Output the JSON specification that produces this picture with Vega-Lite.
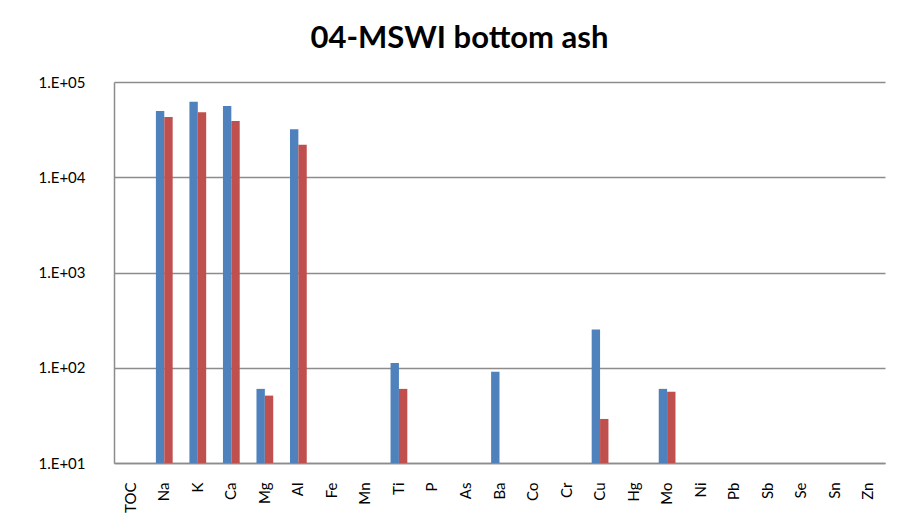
{
  "$schema": "https://vega.github.io/schema/vega-lite/v6.json",
  "width": 771,
  "height": 381,
  "autosize": {"type": "none"},
  "padding": {"left": 114, "top": 82, "right": 19, "bottom": 65},
  "background": "white",
  "title": {
    "text": "04-MSWI bottom ash",
    "font": "Lato",
    "fontSize": 31,
    "fontWeight": "bold",
    "color": "black",
    "anchor": "middle",
    "dx": -40,
    "offset": 20
  },
  "data": {
    "values": [
      {"element": "Na", "series": "A", "value": 49500},
      {"element": "Na", "series": "B", "value": 43000},
      {"element": "K", "series": "A", "value": 62000},
      {"element": "K", "series": "B", "value": 48000},
      {"element": "Ca", "series": "A", "value": 56000},
      {"element": "Ca", "series": "B", "value": 39000},
      {"element": "Mg", "series": "A", "value": 60},
      {"element": "Mg", "series": "B", "value": 51},
      {"element": "Al", "series": "A", "value": 32000},
      {"element": "Al", "series": "B", "value": 22000},
      {"element": "Ti", "series": "A", "value": 112},
      {"element": "Ti", "series": "B", "value": 60},
      {"element": "Ba", "series": "A", "value": 91},
      {"element": "Cu", "series": "A", "value": 252},
      {"element": "Cu", "series": "B", "value": 29},
      {"element": "Mo", "series": "A", "value": 60},
      {"element": "Mo", "series": "B", "value": 56}
    ]
  },
  "mark": {"type": "bar"},
  "encoding": {
    "x": {
      "field": "element",
      "type": "nominal",
      "sort": ["TOC","Na","K","Ca","Mg","Al","Fe","Mn","Ti","P","As","Ba","Co","Cr","Cu","Hg","Mo","Ni","Pb","Sb","Se","Sn","Zn"],
      "scale": {
        "domain": ["TOC","Na","K","Ca","Mg","Al","Fe","Mn","Ti","P","As","Ba","Co","Cr","Cu","Hg","Mo","Ni","Pb","Sb","Se","Sn","Zn"],
        "paddingInner": 0.5,
        "paddingOuter": 0.25
      },
      "axis": {
        "title": null,
        "labelAngle": -90,
        "labelFont": "Lato",
        "labelFontSize": 15,
        "labelColor": "black",
        "labelPadding": 19,
        "ticks": false,
        "domainColor": "#8c8c8c",
        "domainWidth": 1.5
      }
    },
    "xOffset": {"field": "series", "type": "nominal", "scale": {"paddingInner": 0}},
    "y": {
      "field": "value",
      "type": "quantitative",
      "scale": {"type": "log", "domain": [10, 100000], "nice": false},
      "axis": {
        "title": null,
        "values": [10, 100, 1000, 10000, 100000],
        "labelExpr": "'1.E+0' + round(log(datum.value)/LN10)",
        "labelFont": "Lato",
        "labelFontSize": 15,
        "labelColor": "black",
        "labelAlign": "left",
        "labelPadding": 76,
        "ticks": false,
        "grid": true,
        "gridColor": "#8c8c8c",
        "gridWidth": 1.5,
        "domainColor": "#8c8c8c",
        "domainWidth": 1.5
      }
    },
    "y2": {"datum": 10},
    "color": {
      "field": "series",
      "type": "nominal",
      "scale": {"domain": ["A", "B"], "range": ["#4F81BD", "#C0504D"]},
      "legend": null
    }
  },
  "config": {"view": {"stroke": null}}
}
